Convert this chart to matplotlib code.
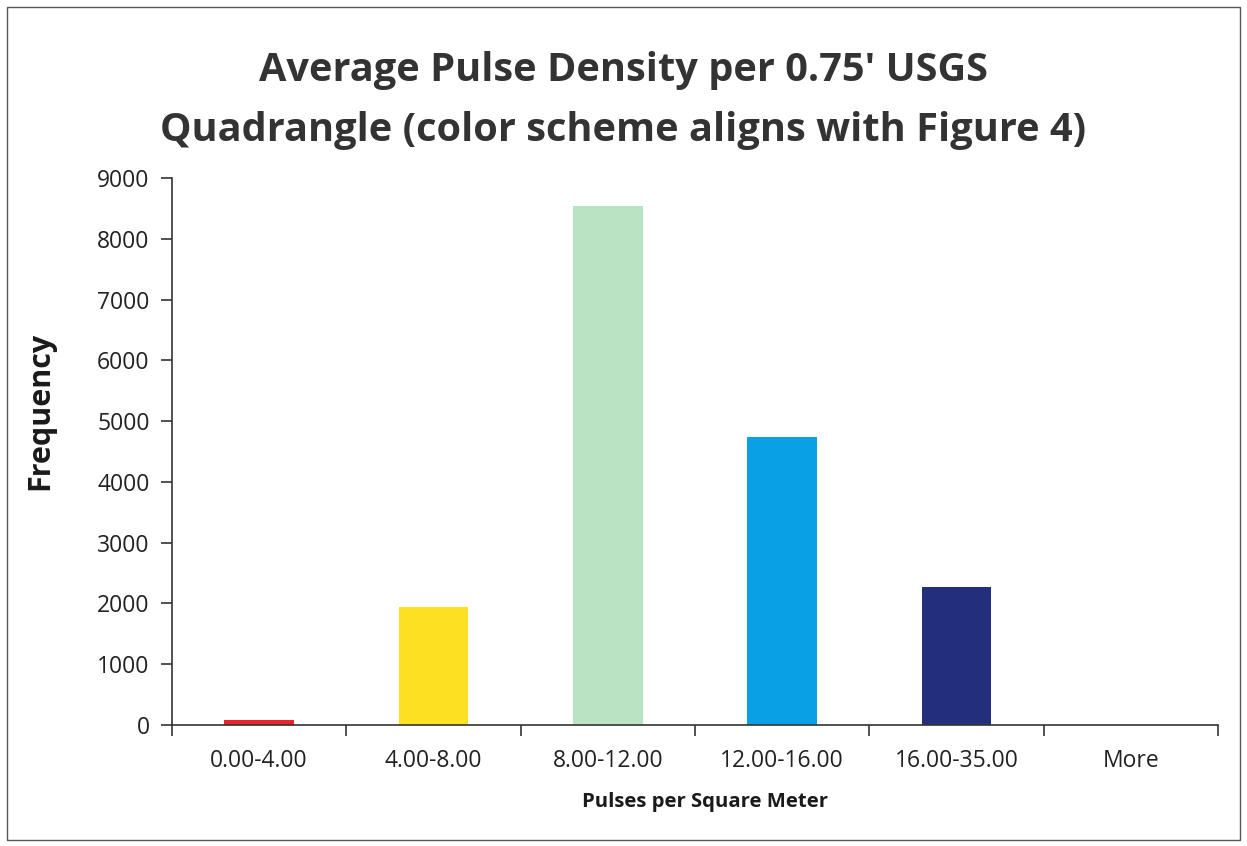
import matplotlib.pyplot as plt
from matplotlib.patches import Rectangle
import numpy as np

categories = ["0.00-4.00", "4.00-8.00", "8.00-12.00", "12.00-16.00", "16.00-35.00", "More"]
frequency = [90, 1940, 8540, 4740, 2270, 0]
colors = ["#e8262a", "#fde021", "#b9e3c2", "#0aa0e6", "#232f7d", "#ffffff"]
yticks = [0, 1000, 2000, 3000, 4000, 5000, 6000, 7000, 8000, 9000]

plt.rcParams['font.family'] = ['Open Sans', 'DejaVu Sans']

fig = plt.figure(figsize=(12.47, 8.46), dpi=100)
ax = fig.add_axes([0.1379, 0.143, 0.8388, 0.6466])

x = np.arange(len(categories))
ax.bar(x, frequency, width=0.4, color=colors)

ax.set_xlim(-0.5, len(categories) - 0.5)
ax.set_ylim(0, 9000)
ax.set_yticks(yticks)
ax.set_yticklabels([str(v) for v in yticks], fontsize=16.5, color='#222222')
ax.set_xticks(x)
ax.set_xticklabels(categories, fontsize=16.5, color='#222222')
ax.tick_params(axis='x', length=0, pad=17)
ax.set_xticks(np.arange(-0.5, len(categories)), minor=True)
ax.tick_params(axis='x', which='minor', length=8, width=1.2, color='#333333', direction='out')
ax.tick_params(axis='y', length=8, width=1.2, color='#333333', pad=8)

for s in ['top', 'right']:
    ax.spines[s].set_visible(False)
for s in ['left', 'bottom']:
    ax.spines[s].set_color('#333333')
    ax.spines[s].set_linewidth(1.2)

ax.set_xlabel("Pulses per Square Meter", fontsize=14.6, fontweight='bold', va='center', color='#1a1a1a')
ax.xaxis.set_label_coords(0.51, -0.14)
ax.set_ylabel("Frequency", fontsize=22, fontweight='bold', va='center', color='#1a1a1a')
ax.yaxis.set_label_coords(-0.126, 0.575)

fig.text(0.5, 0.881, "Average Pulse Density per 0.75' USGS\nQuadrangle (color scheme aligns with Figure 4)",
         ha='center', va='center', fontsize=28.6, fontweight='bold', color='#333333', linespacing=1.7)

fig.patches.append(Rectangle((0.006, 0.007), 0.988, 0.985, transform=fig.transFigure,
                             fill=False, edgecolor='#555555', linewidth=1.0))

fig.savefig("out.png", dpi=100)
